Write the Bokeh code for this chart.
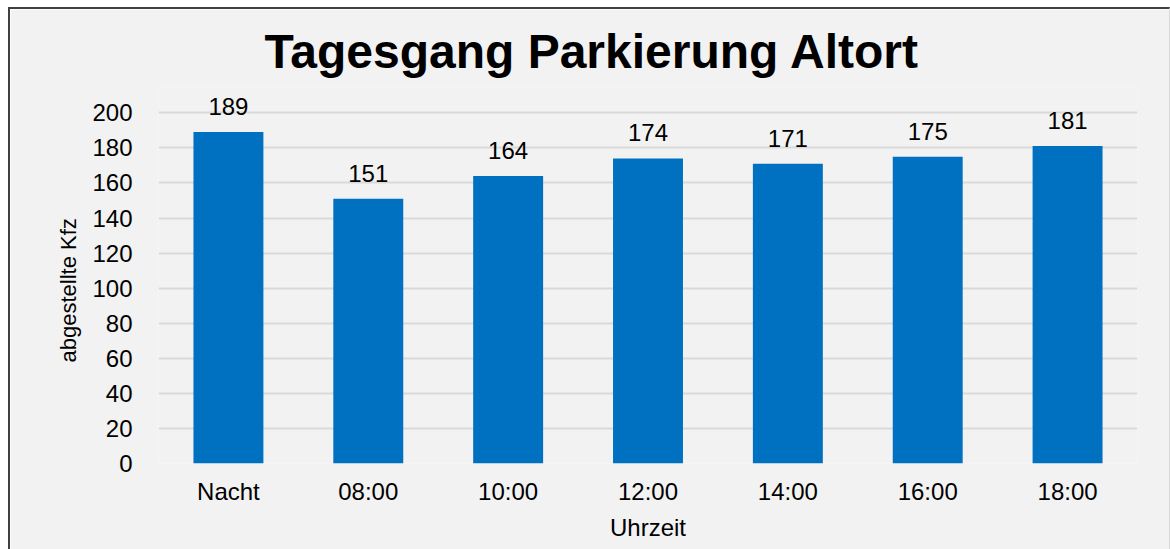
from bokeh.plotting import figure
from bokeh.models import ColumnDataSource, LabelSet, Title, FixedTicker, Range1d, FactorRange
from bokeh.core.properties import value
from bokeh.embed import file_html
from bokeh.resources import INLINE

categories = ["Nacht", "08:00", "10:00", "12:00", "14:00", "16:00", "18:00"]
values = [189, 151, 164, 174, 171, 175, 181]
y_ticks = [0, 20, 40, 60, 80, 100, 120, 140, 160, 180, 200]

title_text = "Tagesgang Parkierung Altort"
x_label = "Uhrzeit"
y_label = "abgestellte Kfz"

FONT = "Liberation Sans"
BG = "#f2f2f2"
BAR = "#0070c0"
GRID = "#d9d9d9"

source = ColumnDataSource(dict(cat=categories, val=values, lbl=[str(v) for v in values]))

p = figure(
    x_range=FactorRange(*categories, range_padding=0),
    y_range=Range1d(0, 215),
    width=1159, height=540,
    frame_width=979, frame_height=377,
    min_border_left=148, min_border_right=32,
    min_border_top=77, min_border_bottom=86,
    output_backend="svg", toolbar_location=None,
    background_fill_color=BG, border_fill_color=BG,
    outline_line_color=None,
    title=title_text,
)
p.styles = {"margin-left": "8px", "margin-top": "7px",
            "border-left": "2px solid #404040", "border-top": "2px solid #404040",
            "border-right": "1px solid #d9d9d9"}

p.title.text_font = FONT
p.title.text_font_size = "48px"
p.title.text_font_style = "bold"
p.title.text_color = "black"
p.title.align = "left"
p.title.offset = 106
p.title.standoff = 17

p.vbar(x="cat", top="val", width=0.5, source=source, fill_color=BAR, line_color=None)

labels = LabelSet(x="cat", y="val", text="lbl", source=source, text_align="center",
                  text_baseline="alphabetic", y_offset=17, text_font=value(FONT),
                  text_font_size="24px", text_color="black")
p.add_layout(labels)

p.yaxis.ticker = FixedTicker(ticks=y_ticks)
p.xgrid.grid_line_color = None
p.ygrid.grid_line_color = GRID
p.ygrid.grid_line_width = 2

for ax in (p.xaxis[0], p.yaxis[0]):
    ax.axis_line_color = None
    ax.major_tick_line_color = None
    ax.minor_tick_line_color = None
    ax.major_tick_in = 0
    ax.major_tick_out = 0
    ax.major_label_text_font = FONT
    ax.major_label_text_font_size = "24px"
    ax.major_label_text_color = "black"
    ax.axis_label_text_font = FONT
    ax.axis_label_text_font_style = "normal"
    ax.axis_label_text_color = "black"

p.yaxis.major_label_standoff = 26
p.xaxis.major_label_standoff = 14
p.xaxis.axis_label = x_label
p.xaxis.axis_label_text_font_size = "24px"
p.xaxis.axis_label_standoff = 6

ylab = Title(text=y_label, align="left", offset=101, standoff=17,
             text_font=FONT, text_font_size="22px", text_font_style="normal",
             text_color="black")
p.add_layout(ylab, "left")

open("out.html", "w").write(file_html(p, INLINE))
